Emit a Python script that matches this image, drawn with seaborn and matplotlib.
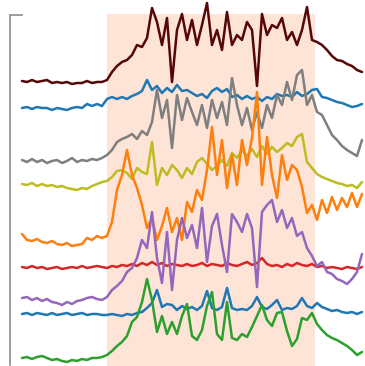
import numpy as np
import pandas as pd
import seaborn as sns
from matplotlib import pyplot as plt

# Sample positions (one every 5 px of the original trace plot)
time_idx = list(range(69))

# Stimulus window (in sample units)
stim_start = 17
stim_end = 58.6

# Traces, top to bottom (screen units, larger = lower)
tr_maroon = [81, 82, 80, 82, 81, 80, 83, 82, 83, 82, 84, 83, 83, 81, 83, 82, 82, 80, 72, 66,
             62, 60, 55, 45, 47, 38, 8, 22, 45, 18, 82, 30, 14, 40, 20, 45, 25, 3, 45, 30,
             50, 12, 45, 35, 40, 22, 30, 86, 14, 35, 25, 28, 18, 40, 32, 45, 30, 7, 40, 42,
             45, 50, 56, 60, 61, 64, 66, 70, 72]
tr_blue1 = [108, 107, 109, 107, 108, 108, 110, 108, 109, 110, 108, 107, 108, 104, 106, 104, 106, 99, 97, 99,
            97, 99, 96, 94, 91, 80, 90, 86, 93, 88, 92, 85, 91, 90, 93, 96, 94, 98, 91, 88,
            92, 89, 97, 95, 99, 96, 99, 97, 101, 97, 99, 94, 96, 95, 97, 92, 96, 94, 90, 89,
            97, 98, 100, 102, 103, 105, 107, 106, 104]
tr_gray = [160, 162, 159, 162, 160, 163, 161, 160, 163, 161, 158, 162, 160, 161, 159, 160, 158, 155, 150, 142,
           139, 137, 134, 139, 131, 135, 122, 90, 118, 100, 148, 95, 120, 98, 112, 125, 105, 128, 100, 118,
           102, 125, 78, 105, 125, 108, 130, 112, 128, 105, 118, 95, 105, 82, 100, 75, 70, 105, 95, 112,
           115, 125, 135, 140, 146, 150, 153, 156, 140]
tr_olive = [184, 185, 183, 186, 184, 186, 185, 187, 186, 188, 189, 190, 188, 189, 186, 184, 182, 181, 177, 171,
            170, 173, 179, 168, 172, 174, 142, 185, 168, 175, 165, 170, 178, 168, 174, 162, 158, 164, 170, 166,
            160, 166, 153, 158, 150, 156, 149, 157, 146, 154, 147, 152, 148, 143, 146, 137, 134, 162, 168, 174,
            177, 179, 181, 183, 184, 186, 185, 188, 182]
tr_orange = [234, 240, 241, 239, 242, 243, 241, 244, 245, 243, 246, 245, 244, 238, 240, 236, 238, 236, 222, 190,
             175, 150, 175, 188, 205, 228, 218, 240, 226, 208, 232, 218, 240, 202, 212, 190, 200, 170, 127, 175,
             140, 188, 155, 185, 140, 165, 138, 92, 185, 137, 175, 198, 155, 180, 165, 170, 187, 213, 205, 220,
             200, 213, 197, 210, 198, 207, 193, 207, 194]
tr_red = [267, 268, 266, 268, 267, 269, 268, 267, 269, 268, 267, 268, 266, 268, 267, 266, 267, 268, 266, 267,
          265, 266, 264, 266, 263, 265, 262, 265, 263, 266, 264, 265, 266, 264, 266, 265, 263, 266, 264, 265,
          266, 263, 265, 266, 264, 262, 265, 263, 258, 264, 266, 265, 267, 264, 266, 263, 265, 266, 264, 267,
          266, 268, 267, 268, 269, 267, 268, 269, 267]
tr_purple = [298, 297, 300, 298, 301, 299, 302, 303, 305, 302, 304, 301, 300, 298, 297, 299, 300, 297, 290, 286,
             281, 272, 268, 258, 240, 248, 212, 258, 283, 232, 290, 240, 218, 238, 225, 248, 208, 262, 226, 214,
             245, 272, 214, 222, 232, 214, 228, 287, 212, 205, 200, 222, 210, 228, 218, 236, 232, 248, 256, 266,
             262, 272, 274, 279, 281, 284, 279, 272, 254]
tr_blue2 = [314, 313, 315, 313, 314, 315, 313, 315, 314, 313, 315, 314, 313, 315, 314, 314, 315, 315, 314, 315,
            316, 314, 315, 313, 312, 308, 303, 290, 307, 304, 305, 310, 306, 309, 307, 310, 306, 291, 308, 310,
            307, 288, 308, 310, 309, 310, 306, 297, 307, 309, 305, 300, 310, 308, 309, 306, 298, 306, 308, 303,
            307, 309, 311, 310, 312, 313, 312, 314, 312]
tr_green = [358, 357, 359, 357, 356, 358, 360, 359, 361, 362, 360, 361, 359, 360, 358, 358, 357, 355, 351, 346,
            342, 336, 322, 317, 302, 279, 300, 332, 316, 334, 322, 334, 316, 304, 336, 340, 330, 306, 292, 334,
            340, 302, 338, 340, 334, 337, 327, 316, 305, 320, 326, 313, 312, 331, 346, 339, 318, 320, 313, 324,
            330, 335, 338, 340, 343, 346, 350, 355, 352]

trace_names = ['maroon', 'blue1', 'gray', 'olive', 'orange', 'red', 'purple', 'blue2', 'green']
trace_vals = [tr_maroon, tr_blue1, tr_gray, tr_olive, tr_orange, tr_red, tr_purple, tr_blue2, tr_green]
trace_colors = ['#560707', '#1f77b4', '#7f7f7f', '#bcbd22', '#ff7f0e',
                '#d62728', '#9467bd', '#1f77b4', '#2ca02c']

# Long format table for seaborn
df = pd.concat([pd.DataFrame({'t': time_idx, 'val': v, 'trace': n})
                for n, v in zip(trace_names, trace_vals)], ignore_index=True)

sns.set_style('white')

fig = plt.figure(figsize=(3.65, 3.66), dpi=100)
ax = fig.add_axes([10 / 365, 0, 355 / 365, 352 / 366])

# Shaded stimulus window
ax.axvspan(stim_start, stim_end, color='#fde4d6', zorder=0, lw=0)

# Draw traces
sns.lineplot(data=df, x='t', y='val', hue='trace', hue_order=trace_names,
             palette=trace_colors, lw=1.8, legend=False, sort=False,
             clip_on=False, ax=ax)

ax.set_xlim(-2.4, 68.6)
ax.set_ylim(366, 14)

# Scale bar made from the left spine
for s in ['top', 'right', 'bottom']:
    ax.spines[s].set_visible(False)
ax.spines['left'].set_color('#8c8c8c')
ax.spines['left'].set_linewidth(1.2)
ax.spines['left'].set_bounds(365, 15)
ax.set_yticks([15])
ax.set_yticklabels([])
ax.tick_params(axis='y', direction='in', length=9, width=1.2, color='#8c8c8c', left=True)
ax.set_xticks([])
ax.set_xlabel('')
ax.set_ylabel('')
ax.set_facecolor('none')

fig.savefig('out.png', dpi=100)
